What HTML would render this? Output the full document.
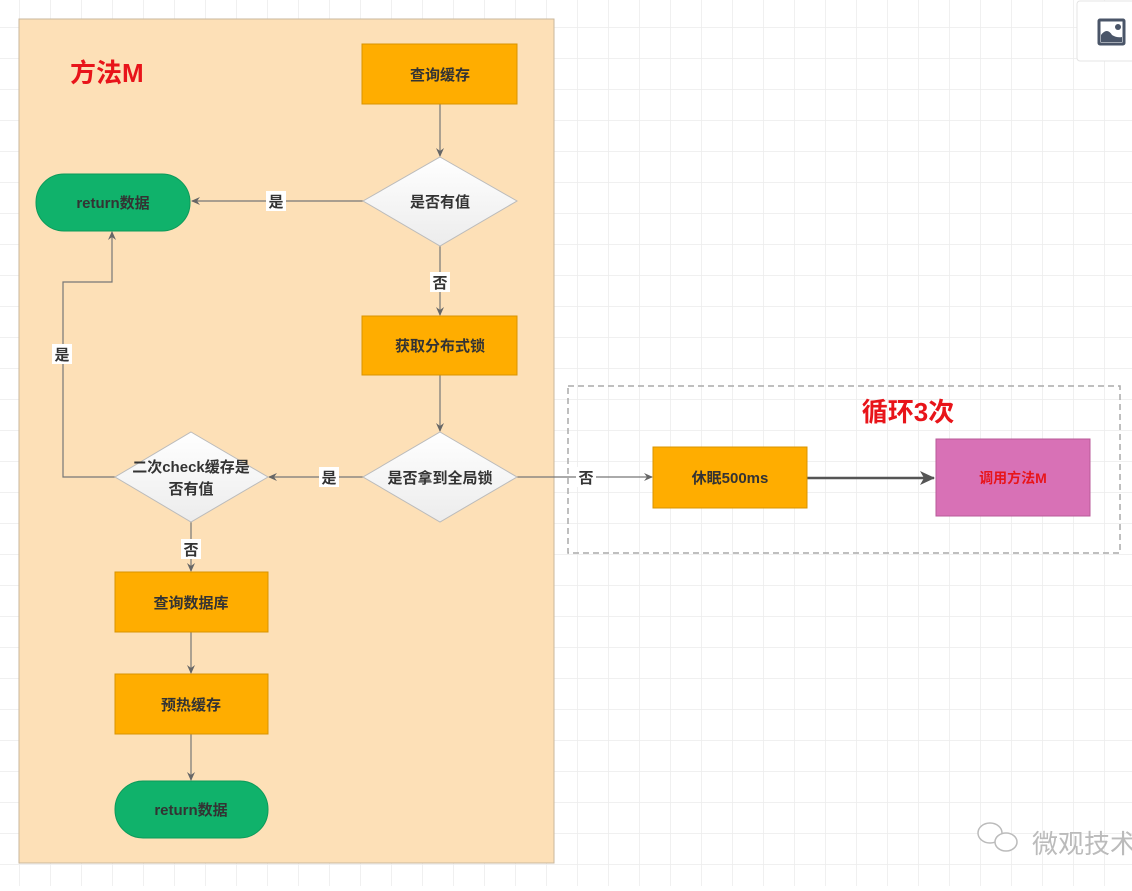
<!DOCTYPE html>
<html><head><meta charset="utf-8"><style>
body{margin:0;background:#fff;}
svg text{font-family:"Liberation Sans","Noto Sans CJK SC",sans-serif;font-weight:bold;}
</style></head><body>
<svg width="1132" height="886" xmlns="http://www.w3.org/2000/svg">
<defs>
<pattern id="g" x="19" y="27" width="31" height="31" patternUnits="userSpaceOnUse">
<path d="M0 0H31M0 0V31" stroke="#ececec" stroke-width="1.5" fill="none"/>
</pattern>
<marker id="a" markerWidth="10" markerHeight="10" refX="8" refY="5" orient="auto" markerUnits="userSpaceOnUse">
<path d="M0 1L9 5L0 9L3 5Z" fill="#666"/></marker>
<marker id="b" markerWidth="16" markerHeight="14" refX="14" refY="7" orient="auto" markerUnits="userSpaceOnUse">
<path d="M0 0L15 7L0 14L4 7Z" fill="#555"/></marker>
<linearGradient id="d" x1="0" y1="0" x2="0" y2="1"><stop offset="0" stop-color="#fff"/><stop offset="1" stop-color="#ececec"/></linearGradient>
</defs>
<rect width="1132" height="886" fill="#fff"/>
<rect width="1132" height="886" fill="url(#g)"/>
<rect x="1077" y="1" width="60" height="60" rx="3" fill="#fff" stroke="#e4e4e4"/>
<rect x="1099" y="20" width="25" height="24" fill="none" stroke="#4a5568" stroke-width="3" rx="1"/>
<path d="M1101 42L1101 35Q1107 27 1112 35Q1117 38 1122 37L1122 42Z" fill="#4a5568"/>
<circle cx="1118" cy="27" r="3" fill="#4a5568"/>
<g fill="#fff" stroke="#bbb" stroke-width="1.5">
<ellipse cx="990" cy="833" rx="12" ry="10"/>
<ellipse cx="1006" cy="842" rx="11" ry="9"/>
</g>
<text x="1032" y="853" font-size="26" fill="#bbb" style="font-weight:normal">微观技术</text>

<rect x="19" y="19" width="535" height="844" fill="#fde0b7" stroke="#c9b79e"/>
<text x="70" y="82" font-size="26" fill="#e8141a">方法M</text>

<rect x="568" y="386" width="552" height="167" fill="none" stroke="#aaa" stroke-dasharray="6,4" stroke-width="1.5"/>
<text x="908" y="421" font-size="26" fill="#e8141a" text-anchor="middle">循环3次</text>

<g stroke="#777" stroke-width="1.2" fill="none">
<path d="M440 104V156" marker-end="url(#a)"/>
<path d="M363 201H192" marker-end="url(#a)"/>
<path d="M440 246V315" marker-end="url(#a)"/>
<path d="M440 375V431" marker-end="url(#a)"/>
<path d="M363 477H269" marker-end="url(#a)"/>
<path d="M517 477H652" marker-end="url(#a)"/>
<path d="M115 477H63V282H112V232" marker-end="url(#a)"/>
<path d="M191 522V571" marker-end="url(#a)"/>
<path d="M191 632V673" marker-end="url(#a)"/>
<path d="M191 734V780" marker-end="url(#a)"/>
</g>
<path d="M807 478H934" stroke="#555" stroke-width="2.5" marker-end="url(#b)"/>

<g font-size="15" text-anchor="middle" fill="#333">
<rect x="266" y="191" width="20" height="20" fill="#fff"/><text x="276" y="207">是</text>
<rect x="430" y="272" width="20" height="20" fill="#fff"/><text x="440" y="288">否</text>
<rect x="319" y="467" width="20" height="20" fill="#fff"/><text x="329" y="483">是</text>
<rect x="576" y="467" width="20" height="20" fill="#fff"/><text x="586" y="483">否</text>
<rect x="52" y="344" width="20" height="20" fill="#fff"/><text x="62" y="360">是</text>
<rect x="181" y="539" width="20" height="20" fill="#fff"/><text x="191" y="555">否</text>
</g>

<g fill="#ffad00" stroke="#d99400">
<rect x="362" y="44" width="155" height="60"/>
<rect x="362" y="316" width="155" height="59"/>
<rect x="115" y="572" width="153" height="60"/>
<rect x="115" y="674" width="153" height="60"/>
<rect x="653" y="447" width="154" height="61"/>
</g>
<rect x="936" y="439" width="154" height="77" fill="#d871b6" stroke="#b85a98"/>
<rect x="36" y="174" width="154" height="57" rx="28" fill="#10b26b" stroke="#0c9a5a"/>
<rect x="115" y="781" width="153" height="57" rx="28" fill="#10b26b" stroke="#0c9a5a"/>
<g fill="url(#d)" stroke="#bbb">
<path d="M440 157L517 201L440 246L363 201Z"/>
<path d="M440 432L517 477L440 522L363 477Z"/>
<path d="M191 432L268 477L191 522L115 477Z"/>
</g>

<g font-size="15" text-anchor="middle" fill="#333">
<text x="440" y="80">查询缓存</text>
<text x="440" y="207">是否有值</text>
<text x="113" y="208">return数据</text>
<text x="440" y="351">获取分布式锁</text>
<text x="440" y="483">是否拿到全局锁</text>
<text x="191" y="472">二次check缓存是</text>
<text x="191" y="494">否有值</text>
<text x="191" y="608">查询数据库</text>
<text x="191" y="710">预热缓存</text>
<text x="191" y="815">return数据</text>
<text x="730" y="483">休眠500ms</text>
<text x="1013" y="483" fill="#e8141a" font-size="14">调用方法M</text>
</g>
</svg>
</body></html>
